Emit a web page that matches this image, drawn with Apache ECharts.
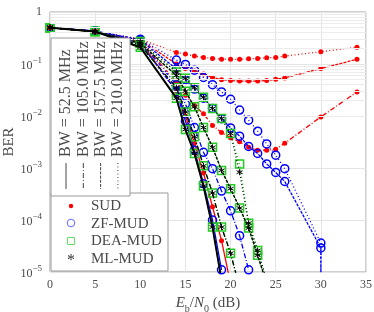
<!DOCTYPE html>
<html><head><meta charset="utf-8">
<script src="https://cdn.jsdelivr.net/npm/echarts@6/dist/echarts.min.js"></script>
<style>html,body{margin:0;padding:0;background:#fff}#c{width:374px;height:312px}</style>
</head><body><div id="c"></div>
<script>
// ---- data ----
const xTicks = [0, 5, 10, 15, 20, 25, 30, 35];
const yDecades = [1e-5, 1e-4, 1e-3, 1e-2, 1e-1, 1];
const bwLabels = ['BW = 52.5 MHz', 'BW = 105.0 MHz', 'BW = 157.5 MHz', 'BW = 210.0 MHz'];
const detectors = ['SUD', 'ZF-MUD', 'DEA-MUD', 'ML-MUD'];

// SUD
const xSUD52 = [0, 5, 10, 14, 15, 16, 17, 18, 19, 20];
const ySUD52 = [0.5, 0.42, 0.27, 0.03, 0.01, 3e-3, 8e-4, 1.8e-4, 4e-5, 6e-6];
const xSUDlong = [0, 5, 10, 14, 15, 16, 17, 18, 19, 20, 21, 22, 23, 24, 25, 26, 30, 34];
const ySUD105 = [0.5, 0.42, 0.28, 0.045, 0.025, 0.016, 0.011, 6.6e-3, 4.8e-3, 3.8e-3, 3.2e-3, 2.5e-3, 2.2e-3, 2.2e-3, 2.3e-3, 3e-3, 9.6e-3, 0.029];
const ySUD157 = [0.5, 0.42, 0.29, 0.1, 0.082, 0.073, 0.064, 0.055, 0.05, 0.048, 0.047, 0.047, 0.047, 0.048, 0.051, 0.054, 0.082, 0.123];
const ySUD210 = [0.5, 0.42, 0.3, 0.167, 0.155, 0.142, 0.134, 0.128, 0.124, 0.123, 0.123, 0.126, 0.128, 0.132, 0.134, 0.142, 0.172, 0.21];
// ZF-MUD
const xZF52 = [0, 5, 10, 14, 15, 16, 17, 18, 19];
const yZF52 = [0.5, 0.43, 0.25, 0.03, 8e-3, 2.2e-3, 5e-4, 1e-4, 1.1e-5];
const xZF105 = [0, 5, 10, 14, 15, 16, 17, 18, 19, 20, 21, 22];
const yZF105 = [0.5, 0.43, 0.27, 0.04, 0.017, 6e-3, 2e-3, 9.7e-4, 3.6e-4, 1.5e-4, 5e-5, 1.1e-5];
const xZFlong = [0, 5, 10, 14, 15, 16, 17, 18, 19, 20, 21, 22, 23, 24, 25, 26, 30, 30];
const yZF157 = [0.5, 0.43, 0.29, 0.08, 0.05, 0.033, 0.022, 0.014, 8.9e-3, 5.9e-3, 4.1e-3, 2.6e-3, 1.9e-3, 1.2e-3, 8.2e-4, 5.5e-4, 2.9e-5, 1e-7];
const yZF210 = [0.5, 0.43, 0.3, 0.119, 0.098, 0.076, 0.055, 0.04, 0.029, 0.021, 0.013, 8.3e-3, 5.1e-3, 2.9e-3, 1.76e-3, 9.7e-4, 3.6e-5, 1e-7];
// DEA-MUD
const xDEA52 = [0, 5, 10, 14, 15, 16, 17, 18, 19];
const yDEA52 = [0.5, 0.42, 0.21, 0.022, 5.5e-3, 1.9e-3, 4.5e-4, 7.3e-5, 7e-6];
const xDEA105 = [0, 5, 10, 14, 15, 16, 17, 18, 19, 20, 21];
const yDEA105 = [0.5, 0.42, 0.23, 0.035, 0.012, 4e-3, 1.1e-3, 3.3e-4, 7.3e-5, 2.3e-5, 5e-6];
const xDEAlong = [0, 5, 10, 14, 15, 16, 17, 18, 19, 20, 21, 22, 23, 24];
const yDEA157 = [0.5, 0.42, 0.25, 0.06, 0.03, 0.015, 6e-3, 2.5e-3, 9e-4, 4e-4, 1.7e-4, 7e-5, 2.1e-5, 6e-6];
const yDEA210 = [0.5, 0.42, 0.27, 0.07, 0.053, 0.035, 0.023, 0.014, 9e-3, 4.6e-3, 1.2e-3, 8.7e-5, 2.6e-5, 7e-6];
// ML-MUD
const yML52 = [0.5, 0.42, 0.21, 0.022, 5.5e-3, 1.9e-3, 4.5e-4, 7.3e-5, 7e-6];
const yML105 = [0.5, 0.42, 0.23, 0.035, 0.012, 4e-3, 1.1e-3, 3.3e-4, 7.3e-5, 2.3e-5, 5e-6];
const yML157 = [0.5, 0.42, 0.25, 0.06, 0.03, 0.015, 6e-3, 2.5e-3, 9e-4, 4e-4, 1.7e-4, 7e-5, 2.1e-5, 6e-6];
const yML210 = [0.5, 0.42, 0.27, 0.07, 0.053, 0.035, 0.023, 0.014, 9e-3, 4.6e-3, 8.3e-4, 8.7e-5, 2.6e-5, 7e-6];

// ---- styling ----
const FONT = 'Liberation Serif';
const TXT = '#4a4a4a';
const RED = '#ff0000', BLUE = '#0000ff', GREEN = '#22cc22', BLACK = '#000000';
const DASH = { s: 'solid', dd: [5, 2, 1, 2], da: [3, 1.2], dt: [1, 2.5] };
const ASTER = 'path://M0,-10L0,10M-8.66,-5L8.66,5M-8.66,5L8.66,-5';

function pairs(xs, ys) { return xs.map((x, i) => [x, ys[i]]); }
function mk(name, xs, ys, color, dash, kind, z) {
  let sym = 'circle', size = 5, item = { color: color };
  if (kind === 'zf') { sym = 'circle'; size = 8; item = { color: 'rgba(0,0,0,0)', borderColor: color, borderWidth: 1.5 }; }
  if (kind === 'dea') { sym = 'rect'; size = 8; item = { color: 'rgba(0,0,0,0)', borderColor: color, borderWidth: 1.5 }; }
  if (kind === 'ml') { sym = ASTER; size = 6; item = { color: 'rgba(0,0,0,0)', borderColor: color, borderWidth: 1 }; }
  return {
    name: name, type: 'line', data: pairs(xs, ys), z: z,
    symbol: sym, symbolSize: size, showSymbol: true, showAllSymbol: true,
    itemStyle: item, animation: false, silent: true, clip: true,
    lineStyle: { color: color, width: (kind === 'ml' && dash === DASH.s) ? 2 : 1.3, type: dash }
  };
}

const minorVals = [];
for (const d of yDecades.slice(0, 5)) for (let k = 2; k <= 9; k++) minorVals.push(k * d);

const series = [
  mk('SUD 210', xSUDlong, ySUD210, RED, DASH.dt, 'sud', 2),
  mk('SUD 157', xSUDlong, ySUD157, RED, DASH.da, 'sud', 2),
  mk('SUD 105', xSUDlong, ySUD105, RED, DASH.dd, 'sud', 2),
  mk('SUD 52', xSUD52, ySUD52, RED, DASH.s, 'sud', 2),
  mk('ZF 210', xZFlong, yZF210, BLUE, DASH.dt, 'zf', 3),
  mk('ZF 157', xZFlong, yZF157, BLUE, DASH.da, 'zf', 3),
  mk('ZF 105', xZF105, yZF105, BLUE, DASH.dd, 'zf', 3),
  mk('ZF 52', xZF52, yZF52, BLUE, DASH.s, 'zf', 3),
  mk('DEA 210', xDEAlong, yDEA210, GREEN, DASH.dt, 'dea', 4),
  mk('DEA 157', xDEAlong, yDEA157, GREEN, DASH.da, 'dea', 4),
  mk('DEA 105', xDEA105, yDEA105, GREEN, DASH.dd, 'dea', 4),
  mk('DEA 52', xDEA52, yDEA52, GREEN, DASH.s, 'dea', 4),
  mk('ML 210', xDEAlong, yML210, BLACK, DASH.dt, 'ml', 5),
  mk('ML 157', xDEAlong, yML157, BLACK, DASH.da, 'ml', 5),
  mk('ML 105', xDEA105, yML105, BLACK, DASH.dd, 'ml', 5),
  mk('ML 52', xDEA52, yML52, BLACK, DASH.s, 'ml', 5),
  {
    type: 'line', data: [], silent: true, z: 1,
    markLine: {
      silent: true, symbol: 'none', label: { show: false }, animation: false,
      lineStyle: { color: '#ececec', width: 1, type: 'solid' },
      data: minorVals.map(v => ({ yAxis: v }))
    }
  }
];

// ---- legend graphics ----
const G = [];
G.push({ type: 'rect', shape: { x: 51, y: 193, width: 117, height: 78 }, style: { fill: '#fff', stroke: '#999', lineWidth: 1 }, z: 100 });
const legMarks = [
  { t: 'circle', shape: { cx: 71, cy: 206, r: 2.2 }, style: { fill: RED } },
  { t: 'circle', shape: { cx: 71, cy: 223, r: 3.8 }, style: { fill: 'none', stroke: '#6666ff', lineWidth: 1 } },
  { t: 'rect', shape: { x: 67.5, y: 237.5, width: 7, height: 7 }, style: { fill: 'none', stroke: '#66dd66', lineWidth: 1 } },
];
legMarks.forEach(m => G.push({ type: m.t, shape: m.shape, style: m.style, z: 101 }));
G.push({ type: 'text', x: 71, y: 261, style: { text: '*', font: '16px ' + FONT, fill: '#333', align: 'center', verticalAlign: 'middle' }, z: 101 });
detectors.forEach((d, i) => G.push({ type: 'text', x: 91, y: 206 + i * 17.6, style: { text: d, font: '15px ' + FONT, fill: TXT, verticalAlign: 'middle' }, z: 101 }));

G.push({ type: 'rect', shape: { x: 51, y: 38, width: 79, height: 158 }, style: { fill: '#fff', stroke: '#999', lineWidth: 1 }, z: 102 });
const bwDash = [null, [5, 2, 1, 2], [3, 1.2], [1, 2.5]];
bwLabels.forEach((b, i) => {
  const cx = 66 + i * 17.3;
  G.push({ type: 'text', x: cx, y: 157, rotation: Math.PI / 2, style: { text: b, font: '16px ' + FONT, fill: TXT, verticalAlign: 'middle', align: 'left' }, z: 103 });
  G.push({ type: 'line', shape: { x1: cx, y1: 163, x2: cx, y2: 189 }, style: { stroke: '#444', lineWidth: 1, lineDash: bwDash[i] }, z: 103 });
});

const chart = echarts.init(document.getElementById('c'), null, { renderer: 'canvas' });
chart.setOption({
  animation: false,
  backgroundColor: '#fff',
  grid: { left: 50, right: 8, top: 12, bottom: 40, containLabel: false, outerBoundsMode: 'none', show: true, borderColor: '#a0a0a0', borderWidth: 1 },
  xAxis: {
    type: 'value', min: 0, max: 35, interval: 5,
    axisLine: { show: false }, axisTick: { show: false },
    splitLine: { show: true, lineStyle: { color: '#e4e4e4', width: 1 } },
    axisLabel: { color: TXT, fontFamily: FONT, fontSize: 12, margin: 7 },
    name: '{i|E}{sb|b}{n|/}{i|N}{sb|0}{n| (dB)}', nameLocation: 'middle', nameGap: 24, nameMoveOverlap: false,
    nameTextStyle: {
      color: TXT, fontFamily: FONT, fontSize: 15,
      rich: {
        i: { fontFamily: FONT, fontStyle: 'italic', fontSize: 15, color: TXT, verticalAlign: 'bottom' },
        n: { fontFamily: FONT, fontSize: 15, color: TXT, verticalAlign: 'bottom' },
        sb: { fontFamily: FONT, fontSize: 10, color: TXT, verticalAlign: 'bottom', padding: [0, 0, -3, 0] }
      }
    }
  },
  yAxis: {
    type: 'log', logBase: 10, min: 1e-5, max: 1,
    axisLine: { show: false }, axisTick: { show: false },
    splitLine: { show: true, lineStyle: { color: '#e4e4e4', width: 1 } },
    axisLabel: {
      color: TXT, fontFamily: FONT, fontSize: 12, margin: 8,
      formatter: function (v) {
        if (v >= 1) return '{n|1}';
        const e = Math.round(Math.log10(v));
        return '{n|10}{s|\u2212' + (-e) + '}';
      },
      rich: {
        n: { fontFamily: FONT, fontSize: 12, color: TXT, verticalAlign: 'bottom' },
        s: { fontFamily: FONT, fontSize: 9, color: TXT, verticalAlign: 'bottom', padding: [0, 0, 6, 0] }
      }
    },
    name: 'BER', nameLocation: 'middle', nameGap: 33, nameRotate: 90, nameMoveOverlap: false,
    nameTextStyle: { color: TXT, fontFamily: FONT, fontSize: 15 }
  },
  series: series,
  graphic: G
});
</script></body></html>
